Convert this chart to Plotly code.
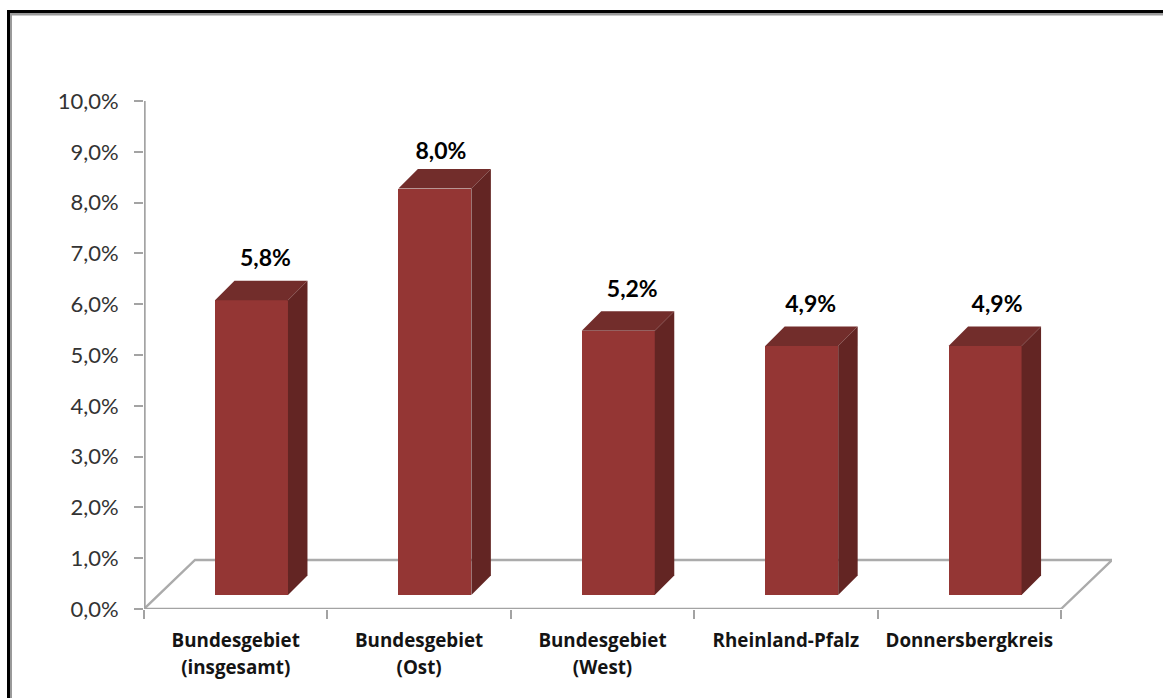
import plotly.graph_objects as go

categories = ["Bundesgebiet<br>(insgesamt)", "Bundesgebiet<br>(Ost)", "Bundesgebiet<br>(West)", "Rheinland-Pfalz", "Donnersbergkreis"]
values = [5.8, 8.0, 5.2, 4.9, 4.9]
value_labels = ["5,8%", "8,0%", "5,2%", "4,9%", "4,9%"]
y_ticks = [0, 1, 2, 3, 4, 5, 6, 7, 8, 9, 10]
y_tick_labels = ["0,0%", "1,0%", "2,0%", "3,0%", "4,0%", "5,0%", "6,0%", "7,0%", "8,0%", "9,0%", "10,0%"]

# styling / geometry
W, H = 1163, 698
L, R, T, B = 144, 1112, 101, 609
px_x = 183.4   # pixels per category
px_y = 50.8    # pixels per 1 %
bar_w = 0.398
bar_c = 0.586
base = 14 / px_y
dx = 19.5 / px_x
dy = 19.5 / px_y
floor_dx = 51 / px_x
floor_dy = 49 / px_y
label_dx = [14, 6, 14, 9, 12]
label_dy = [40, 35, 40, 40, 40]
FRONT, TOP, SIDE = "#943634", "#722d2b", "#632523"
GRID = "#a3a3a3"
FONT = "Lato"
CAT_FONT = "Open Sans"
CAT_SIZE = 18.8

n = len(categories)
fig = go.Figure()

# floor and axis lines
fig.add_trace(go.Scatter(x=[0, floor_dx, n + floor_dx, n], y=[0, floor_dy, floor_dy, 0],
                         mode="lines", line=dict(color="#ababab", width=2.4), cliponaxis=False,
                         hoverinfo="skip", showlegend=False))
fig.add_trace(go.Scatter(x=[0, n], y=[0, 0], mode="lines", line=dict(color=GRID, width=2.4),
                         cliponaxis=False, hoverinfo="skip", showlegend=False))
fig.add_trace(go.Scatter(x=[0.5 / px_x] * 2, y=[0, 10], mode="lines", line=dict(color=GRID, width=2.4),
                         cliponaxis=False, hoverinfo="skip", showlegend=False))

# bars (overlay axes so they sit over the floor)
centers = [i + bar_c for i in range(n)]
fig.add_trace(go.Bar(x=centers, y=values, base=[base] * n, width=bar_w, marker=dict(color=FRONT, line=dict(width=0)),
                     xaxis="x2", yaxis="y2", showlegend=False, hoverinfo="skip"))
for c, v in zip(centers, values):
    xl, xr = c - bar_w / 2, c + bar_w / 2
    yb, yt = base, base + v
    fig.add_trace(go.Scatter(x=[xl, xl + dx, xr + dx, xr, xl], y=[yt, yt + dy, yt + dy, yt, yt], mode="lines",
                             fill="toself", fillcolor=TOP, line=dict(width=0), xaxis="x2", yaxis="y2",
                             hoverinfo="skip", showlegend=False))
    fig.add_trace(go.Scatter(x=[xr, xr + dx, xr + dx, xr, xr], y=[yt, yt + dy, yb + dy, yb, yt], mode="lines",
                             fill="toself", fillcolor=SIDE, line=dict(width=0), xaxis="x2", yaxis="y2",
                             hoverinfo="skip", showlegend=False))

# data labels
fig.add_trace(go.Scatter(x=[c + d / px_x for c, d in zip(centers, label_dx)],
                         y=[base + v + d / px_y for v, d in zip(values, label_dy)],
                         text=value_labels, mode="text", textposition="middle center",
                         textfont=dict(family=FONT, size=23, color="#000000", weight="bold"),
                         xaxis="x2", yaxis="y2", cliponaxis=False, hoverinfo="skip", showlegend=False))

# the outer font size sets the line spacing, the inner span the glyph size
cat_text = ["<br>".join(f'<span style="font-size:{CAT_SIZE}px">{p}</span>' for p in c.split("<br>"))
            for c in categories]

xrange = [0, (R - L) / px_x]
yrange = [0, 10]
fig.update_layout(
    width=W, height=H,
    margin=dict(l=L, r=W - R, t=T, b=H - B),
    paper_bgcolor="white", plot_bgcolor="white",
    showlegend=False, hovermode=False, bargap=0,
    xaxis=dict(range=xrange, tickmode="array", tickvals=[i + 0.5 for i in range(n)], ticktext=cat_text,
               ticks="", showgrid=False, zeroline=False, showline=False, ticklabelstandoff=15,
               tickfont=dict(family=CAT_FONT, size=21.5, color="#141414", weight="bold"),
               minor=dict(tickmode="array", tickvals=list(range(n + 1)), ticks="outside", ticklen=9,
                          tickwidth=2, tickcolor=GRID, showgrid=False)),
    yaxis=dict(range=yrange, tickmode="array", tickvals=y_ticks, ticktext=y_tick_labels, ticks="outside",
               ticklen=9, tickwidth=2, tickcolor=GRID, showgrid=False, zeroline=False, showline=False,
               ticklabelstandoff=11,
               tickfont=dict(family=FONT, size=22, color="#333333")),
    xaxis2=dict(range=xrange, overlaying="x", visible=False),
    yaxis2=dict(range=yrange, overlaying="y", visible=False),
)

# picture frame (pixel positions converted to paper coordinates)
def pxx(p): return (p - L) / (R - L)
def pxy(p): return (B - p) / (B - T)
frame = [(7, 10, 1163, 13, "#000000"), (7, 10, 10, 698, "#000000"),
         (10, 13, 1163, 15.5, "#9a9a9a"), (10, 13, 12, 698, "#9a9a9a")]
for x0, y0, x1, y1, col in frame:
    fig.add_shape(type="rect", xref="paper", yref="paper", x0=pxx(x0), x1=pxx(x1), y0=pxy(y0), y1=pxy(y1),
                  fillcolor=col, line=dict(width=0), layer="above")

fig.write_html("out.html", config={"displayModeBar": False},
               post_script="document.body.style.margin='0';document.documentElement.style.overflow='hidden';")
